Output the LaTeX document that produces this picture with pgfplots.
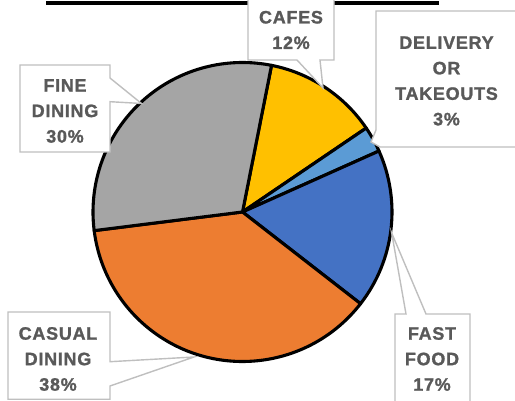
\documentclass[border=0pt]{standalone}
\usepackage{pgfplots}
\pgfplotsset{compat=1.18}
\usepackage{pgfplotstable}
\usepackage{fontspec}
\setmainfont{Liberation Sans}
\newfontfamily\lblfont[LetterSpace=4, BoldFeatures={FakeBold=1.2}]{Liberation Sans}
\definecolor{cCafe}{HTML}{FFC000}
\definecolor{cDeliv}{HTML}{5B9BD5}
\definecolor{cFast}{HTML}{4472C4}
\definecolor{cCasual}{HTML}{ED7D31}
\definecolor{cFine}{HTML}{A5A5A5}
\definecolor{lbltext}{HTML}{595959}
\definecolor{boxline}{HTML}{BFBFBF}
\pgfplotstableread{
name value col
Cafes 12.4 cCafe
Delivery 2.8 cDeliv
FastFood 17.2 cFast
Casual 37.5 cCasual
Fine 30.1 cFine
}\slices
\begin{document}
\begin{tikzpicture}
\gdef\curang{78.8}
\foreach \i in {0,...,4}{
  \pgfplotstablegetelem{\i}{value}\of\slices
  \pgfmathsetmacro\endang{\curang-3.6*\pgfplotsretval}
  \expandafter\xdef\csname sa\i\endcsname{\curang}
  \expandafter\xdef\csname ea\i\endcsname{\endang}
  \pgfplotstablegetelem{\i}{col}\of\slices
  \expandafter\xdef\csname co\i\endcsname{\pgfplotsretval}
  \xdef\curang{\endang}
}
\begin{axis}[
  scale only axis, width=515pt, height=401pt,
  xmin=0, xmax=515, ymin=0, ymax=401,
  hide axis, clip=false,
]
\foreach \i in {0,...,4}{
  \edef\temp{\noexpand\filldraw[fill=\csname co\i\endcsname, draw=black, line width=3.1pt, line join=round]
    (axis cs:242.5,189) -- +(\csname sa\i\endcsname:149.5pt) arc[start angle=\csname sa\i\endcsname, end angle=\csname ea\i\endcsname, radius=149.5pt] -- cycle;}
  \temp
}
% title underline
\draw[black, line width=3.5pt] (axis cs:46,398) -- (axis cs:439,398);
% callouts
\tikzset{callout/.style={fill=white, draw=boxline, line width=1.4pt, line join=miter}}
\filldraw[callout] (axis cs:248,411) -- (axis cs:334,411) -- (axis cs:334,341) -- (axis cs:320,341) -- (axis cs:323,313) -- (axis cs:297,341) -- (axis cs:248,341) -- cycle;
\filldraw[callout] (axis cs:376,390) -- (axis cs:530,390) -- (axis cs:530,254) -- (axis cs:380,254) -- (axis cs:371,259) -- (axis cs:376,271) -- cycle;
\filldraw[callout] (axis cs:20,336) -- (axis cs:110,336) -- (axis cs:110,323) -- (axis cs:141.5,297.5) -- (axis cs:110,299.3) -- (axis cs:110,249) -- (axis cs:20,249) -- cycle;
\filldraw[callout] (axis cs:8,89) -- (axis cs:110,89) -- (axis cs:110,39.3) -- (axis cs:194,44) -- (axis cs:110,15) -- (axis cs:110,1.7) -- (axis cs:8,1.7) -- cycle;
\filldraw[callout] (axis cs:395,87) -- (axis cs:406,87) -- (axis cs:391.7,168) -- (axis cs:426,87) -- (axis cs:470,87) -- (axis cs:470,-20) -- (axis cs:395,-20) -- cycle;
\tikzset{lbl/.style={text=lbltext, align=center, inner sep=0pt, font={\lblfont\bfseries\fontsize{18}{25.5}\selectfont}}}
\node[lbl] at (axis cs:291,371) {CAFES\\12\%};
\node[lbl] at (axis cs:446.5,320) {DELIVERY\\OR\\TAKEOUTS\\3\%};
\node[lbl] at (axis cs:65,290) {FINE\\DINING\\30\%};
\node[lbl] at (axis cs:58,42) {CASUAL\\DINING\\38\%};
\node[lbl] at (axis cs:432,42) {FAST\\FOOD\\17\%};
\end{axis}
\pgfresetboundingbox
\useasboundingbox (current axis.south west) rectangle (current axis.north east);
\end{tikzpicture}
\end{document}
